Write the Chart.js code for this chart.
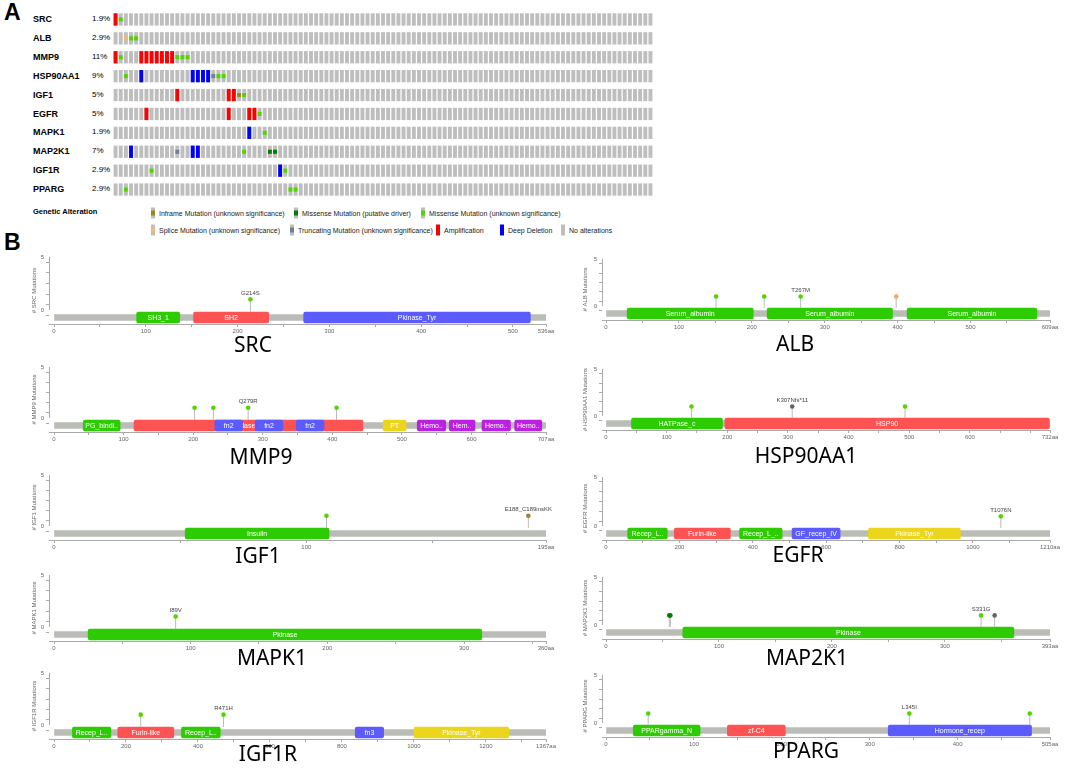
<!DOCTYPE html>
<html>
<head>
<meta charset="utf-8">
<script src="https://cdn.jsdelivr.net/npm/chart.js@4.4.1/dist/chart.umd.min.js"></script>
<style>
  html, body { margin: 0; padding: 0; background: #fff; }
  #page { position: relative; width: 1065px; height: 769px; overflow: hidden; font-family: "Liberation Sans", Arial, sans-serif; color: #000; }
  #page canvas { position: absolute; }
  .txt { position: absolute; white-space: nowrap; line-height: 1; }
  .tag { font-weight: bold; font-size: 23px; }
  .gene { font-weight: bold; font-size: 9px; transform: translateY(-50%); }
  .pct { font-size: 8px; transform: translateY(-50%); }
  .legend { font-size: 7px; color: #222; transform: translateY(-50%); display: flex; align-items: center; }
  .sw { display: inline-block; position: relative; width: 4px; height: 11px; background: #bebebe; margin-right: 4px; }
  .sw i { position: absolute; left: 0; right: 0; top: 3px; height: 5px; }
  .title { font-family: "Noto Sans", sans-serif; font-size: 21px; transform: translate(-50%, -50%); }
</style>
</head>
<body>
<div id="page"></div>
<script>
// ---------- Panel A: oncoprint ----------
const genes = ["SRC", "ALB", "MMP9", "HSP90AA1", "IGF1", "EGFR", "MAPK1", "MAP2K1", "IGF1R", "PPARG"];
const alteredPct = ["1.9%", "2.9%", "11%", "9%", "5%", "5%", "1.9%", "7%", "2.9%", "2.9%"];
const sampleCount = 105;
// sample columns (0-based) carrying each alteration, one list per gene
const ampSamples      = [[0], [], [0, 5, 6, 7, 8, 9, 10, 11], [], [12, 22, 23], [6, 22, 26, 27], [], [], [], []];
const deletionSamples = [[], [], [], [5, 15, 16, 17, 18], [], [], [26], [3, 15, 16], [32], []];
const missenseSamples = [[1], [3, 4], [1, 12, 13, 14], [2, 20, 21], [25], [28], [29], [25], [7, 33], [2, 34, 35]];
const driverSamples   = [[], [], [], [], [], [], [], [30, 31], [], []];
const truncSamples    = [[], [], [], [19], [], [], [], [12], [], []];
const spliceSamples   = [[], [2], [], [], [], [], [], [], [], []];
const inframeSamples  = [[], [], [], [], [24], [], [], [], [], []];

// ---------- Panel B: lollipop plots ----------
const proteinLength = [536, 609, 707, 732, 195, 1210, 360, 393, 1367, 505];
const xMajorStep = [100, 100, 100, 100, 100, 200, 100, 100, 200, 100];
const xMinorStep = [50, 50, 50, 50, 50, 100, 50, 50, 100, 50];

// [name, start, end]
const srcDomains = [["SH3_1", 90, 137], ["SH2", 152, 234], ["Pkinase_Tyr", 272, 519]];
const albDomains = [["Serum_albumin", 29, 202], ["Serum_albumin", 221, 393], ["Serum_albumin", 413, 591]];
const mmp9Domains = [["PG_binding_1", 42, 95], ["Peptidase_M10", 115, 444], ["fn2", 231, 271], ["fn2", 289, 329],
  ["fn2", 348, 388], ["PT", 473, 506], ["Hemopexin", 522, 563], ["Hemopexin", 568, 605], ["Hemopexin", 615, 656], ["Hemopexin", 662, 701]];
const hspDomains = [["HATPase_c", 42, 192], ["HSP90", 196, 731]];
const igf1Domains = [["Insulin", 52, 109]];
const egfrDomains = [["Recep_L_domain", 59, 167], ["Furin-like", 186, 339], ["Recep_L_domain", 364, 480], ["GF_recep_IV", 507, 638], ["Pkinase_Tyr", 715, 966]];
const mapk1Domains = [["Pkinase", 25, 313]];
const map2k1Domains = [["Pkinase", 68, 361]];
const igf1rDomains = [["Recep_L_domain", 51, 158], ["Furin-like", 177, 333], ["Recep_L_domain", 354, 462], ["fn3", 837, 916], ["Pkinase_Tyr", 1000, 1264]];
const ppargDomains = [["PPARgamma_N", 31, 107], ["zf-C4", 138, 204], ["Hormone_recep", 321, 484]];

// [position, count, type, label]
const srcMutations = [[214, 1, "missense", "G214S"]];
const albMutations = [[151, 1, "missense", ""], [217, 1, "missense", ""], [267, 1, "missense", "T267M"], [398, 1, "splice", ""]];
const mmp9Mutations = [[202, 1, "missense", ""], [229, 1, "missense", ""], [279, 1, "missense", "Q279R"], [406, 1, "missense", ""]];
const hspMutations = [[141, 1, "missense", ""], [307, 1, "truncating", "K307Nfs*11"], [493, 1, "missense", ""]];
const igf1Mutations = [[108, 1, "missense", ""], [188, 1, "inframe", "E188_C189insKK"]];
const egfrMutations = [[1076, 1, "missense", "T1076N"]];
const mapk1Mutations = [[89, 1, "missense", "I89V"]];
const map2k1Mutations = [[56, 1, "driver", ""], [57, 1, "driver", ""], [332, 1, "missense", "S331G"], [344, 1, "truncating", ""]];
const igf1rMutations = [[241, 1, "missense", ""], [471, 1, "missense", "R471H"]];
const ppargMutations = [[48, 1, "missense", ""], [345, 1, "missense", "L345I"], [482, 1, "missense", ""]];

const geneDomains = [srcDomains, albDomains, mmp9Domains, hspDomains, igf1Domains, egfrDomains, mapk1Domains, map2k1Domains, igf1rDomains, ppargDomains];
const geneMutations = [srcMutations, albMutations, mmp9Mutations, hspMutations, igf1Mutations, egfrMutations, mapk1Mutations, map2k1Mutations, igf1rMutations, ppargMutations];

// ---------- styles and layout ----------
const alterationColors = { amp: "#ff0000", deletion: "#0000ff", missense: "#53d400", driver: "#008000",
  truncating: "#708090", splice: "#f0b87b", inframe: "#a68028", none: "#bebebe" };
const headColors = { missense: "#53d400", driver: "#008000", truncating: "#5c6670", splice: "#f0a860", inframe: "#a68028" };
const domainPalette = ["#2dcc00", "#ff5353", "#5b5bff", "#ebd61d", "#ba21e0"];
const backboneColor = "#babdb6";

const page = document.getElementById("page");

function addText(text, cls, x, y, extra) {
  const d = document.createElement("div");
  d.className = "txt " + cls;
  d.textContent = text;
  d.style.left = x + "px";
  d.style.top = y + "px";
  if (extra) Object.assign(d.style, extra);
  page.appendChild(d);
  return d;
}

addText("A", "tag", 4, 1);
addText("B", "tag", 4, 231);

// gene and percentage labels
const rowTop = 19, rowPitch = 18.9;
genes.forEach((g, r) => {
  addText(g, "gene", 33, rowTop + r * rowPitch);
  addText(alteredPct[r], "pct", 92, rowTop + r * rowPitch);
});

// oncoprint chart
const oncoCanvas = document.createElement("canvas");
oncoCanvas.width = 540;
oncoCanvas.height = Math.round(rowPitch * genes.length);
oncoCanvas.style.left = "113px";
oncoCanvas.style.top = (rowTop - rowPitch / 2) + "px";
page.appendChild(oncoCanvas);

const sampleLabels = Array.from({ length: sampleCount }, (_, i) => "S" + (i + 1));
const oncoDatasets = [];
genes.forEach((g, r) => {
  const cell = [r + 0.175, r + 0.825];
  const inner = [r + 0.39, r + 0.61];
  const cnaColor = i => ampSamples[r].includes(i) ? alterationColors.amp : alterationColors.deletion;
  const mutType = i => driverSamples[r].includes(i) ? "driver" : truncSamples[r].includes(i) ? "truncating"
    : spliceSamples[r].includes(i) ? "splice" : inframeSamples[r].includes(i) ? "inframe" : "missense";
  const hasMut = i => [missenseSamples, driverSamples, truncSamples, spliceSamples, inframeSamples].some(a => a[r].includes(i));
  const hasCna = i => ampSamples[r].includes(i) || deletionSamples[r].includes(i);
  const common = { grouped: false, barPercentage: 0.76, categoryPercentage: 1 };
  oncoDatasets.push({ ...common, label: g, data: sampleLabels.map(() => cell), backgroundColor: alterationColors.none, order: 3 });
  oncoDatasets.push({ ...common, label: g + " CNA", data: sampleLabels.map((_, i) => hasCna(i) ? cell : null),
    backgroundColor: sampleLabels.map((_, i) => cnaColor(i)), order: 2 });
  oncoDatasets.push({ ...common, label: g + " mutation", data: sampleLabels.map((_, i) => hasMut(i) ? inner : null),
    backgroundColor: sampleLabels.map((_, i) => alterationColors[mutType(i)]), order: 1 });
});

new Chart(oncoCanvas, {
  type: "bar",
  data: { labels: sampleLabels, datasets: oncoDatasets },
  options: {
    responsive: false, animation: false, events: [],
    layout: { padding: 0 },
    plugins: { legend: { display: false }, tooltip: { enabled: false } },
    scales: {
      x: { display: false, offset: true },
      y: { display: false, min: 0, max: genes.length, reverse: true }
    }
  }
});

// legend of panel A
addText("Genetic Alteration", "gene", 33, 212, { fontSize: "7.5px" });
const legendEntries = [
  ["Inframe Mutation (unknown significance)", "inframe", 151, 212.5],
  ["Missense Mutation (putative driver)", "driver", 294, 212.5],
  ["Missense Mutation (unknown significance)", "missense", 421, 212.5],
  ["Splice Mutation (unknown significance)", "splice", 151, 230],
  ["Truncating Mutation (unknown significance)", "truncating", 290, 230],
  ["Amplification", "amp", 436, 230],
  ["Deep Deletion", "deletion", 500, 230],
  ["No alterations", "none", 561, 230]
];
legendEntries.forEach(([label, kind, x, y]) => {
  const item = addText("", "legend", x, y);
  const sw = document.createElement("span");
  sw.className = "sw";
  if (kind === "amp" || kind === "deletion") sw.style.background = alterationColors[kind];
  else if (kind !== "none") {
    const inner = document.createElement("i");
    inner.style.background = alterationColors[kind];
    sw.appendChild(inner);
  }
  item.appendChild(sw);
  item.appendChild(document.createTextNode(label));
});

// ---------- lollipop helpers ----------
function fitLabel(ctx, text, maxW) {
  if (ctx.measureText(text).width <= maxW) return text;
  let t = text;
  while (t.length > 1 && ctx.measureText(t + "..").width > maxW) t = t.slice(0, -1);
  return t + "..";
}

const lollipopLabels = {
  id: "lollipopLabels",
  afterDatasetDraw(chart, args) {
    const ds = chart.data.datasets[args.index];
    const ctx = chart.ctx;
    if (ds.domainLabel) {
      const { x, base, y } = args.meta.data[0].getProps(["x", "base", "y"], true);
      ctx.save();
      ctx.font = '7px "Liberation Sans", Arial, sans-serif';
      ctx.fillStyle = "#fff";
      ctx.textAlign = "center";
      ctx.textBaseline = "middle";
      ctx.fillText(fitLabel(ctx, ds.domainLabel, Math.abs(x - base) - 4), (x + base) / 2, y + 0.5);
      ctx.restore();
    }
    if (ds.headLabels) {
      ctx.save();
      ctx.font = '6px "Liberation Sans", Arial, sans-serif';
      ctx.fillStyle = "#444";
      ctx.textAlign = "center";
      ctx.textBaseline = "middle";
      args.meta.data.forEach((el, i) => {
        if (ds.headLabels[i]) ctx.fillText(ds.headLabels[i], el.x, el.y - 6);
      });
      ctx.restore();
    }
  }
};

const yAxisLine = {
  id: "yAxisLine",
  afterDraw(chart) {
    const { ctx, chartArea } = chart;
    const y = chart.scales.y;
    ctx.save();
    ctx.strokeStyle = "#aaa";
    ctx.lineWidth = 1;
    ctx.beginPath();
    ctx.moveTo(chartArea.left + 0.5, y.getPixelForValue(5));
    ctx.lineTo(chartArea.left + 0.5, y.getPixelForValue(0));
    ctx.stroke();
    ctx.restore();
  }
};

function xTicks(g) {
  const len = proteinLength[g];
  const out = [];
  for (let v = 0; v < len - len * 0.02; v += xMinorStep[g]) out.push(v);
  out.push(len);
  return out;
}

// layout of the ten plots (left / right column)
const plotCols = [
  { canvasLeft: 28, axisX: 49, zeroX: 54, endX: 546 },
  { canvasLeft: 579, axisX: 602, zeroX: 606, endX: 1050 }
];
const plotTop5 = [256.7, 259, 366.7, 369.3, 475, 477, 575, 577.3, 672.7, 675];
const plotZero = [309.3, 305.7, 417.3, 416, 526, 526, 626.7, 625.3, 725, 723.3];
const titlePos = [[253, 344], [795, 343], [261, 456], [806, 455], [258, 555], [798, 554], [272, 657], [807, 657], [268, 753], [806, 750]];
const padTop = 8, padRight = 14, xAxisH = 20, axisGap = 14, backboneGap = 7.5;

function addLollipop(g) {
  const col = plotCols[g % 2];
  const len = proteinLength[g];
  const unit = (plotZero[g] - plotTop5[g]) / 5;
  const areaH = plotZero[g] + axisGap - plotTop5[g];
  const canvas = document.createElement("canvas");
  canvas.width = col.endX + padRight - col.canvasLeft;
  canvas.height = Math.round(padTop + areaH + xAxisH);
  canvas.style.left = col.canvasLeft + "px";
  canvas.style.top = (plotTop5[g] - padTop) + "px";
  page.appendChild(canvas);

  const backboneY = -backboneGap / unit;
  const stemBase = -(backboneGap - 5.5) / unit;
  const domains = geneDomains[g];
  const muts = geneMutations[g];
  const names = [...new Set(domains.map(d => d[0]))];

  const datasets = [{
    type: "bar", indexAxis: "y", data: [{ x: [0, len], y: backboneY }],
    backgroundColor: backboneColor, barThickness: 6, grouped: false, order: 1000
  }];
  domains.forEach((d, i) => datasets.push({
    type: "bar", indexAxis: "y", data: [{ x: [d[1], d[2]], y: backboneY }],
    backgroundColor: domainPalette[names.indexOf(d[0]) % domainPalette.length],
    barThickness: 11, borderRadius: 2, borderSkipped: false, grouped: false,
    order: 500 - i, domainLabel: d[0]
  }));
  const stems = [];
  muts.forEach(m => stems.push({ x: m[0], y: stemBase }, { x: m[0], y: m[1] }, { x: m[0], y: null }));
  datasets.push({ type: "line", data: stems, borderColor: backboneColor, borderWidth: 1, pointRadius: 0, spanGaps: false, order: 20 });
  datasets.push({
    type: "scatter", data: muts.map(m => ({ x: m[0], y: m[1] })),
    pointRadius: 2.3, pointBorderWidth: 0, pointBackgroundColor: muts.map(m => headColors[m[2]]),
    order: 10, headLabels: muts.map(m => m[3])
  });

  new Chart(canvas, {
    type: "scatter",
    data: { datasets },
    options: {
      responsive: false, animation: false, events: [],
      layout: { padding: { top: padTop, right: padRight, left: 0, bottom: 0 } },
      plugins: { legend: { display: false }, tooltip: { enabled: false } },
      scales: {
        x: {
          type: "linear", offset: false,
          min: -len * (col.zeroX - col.axisX) / (col.endX - col.zeroX), max: len,
          afterBuildTicks: s => { s.ticks = xTicks(g).map(v => ({ value: v })); },
          afterFit: s => { s.height = xAxisH; },
          ticks: {
            autoSkip: false, maxRotation: 0, padding: 1, color: "#666", font: { size: 6 },
            callback: v => v === len ? len + "aa" : (v % xMajorStep[g] === 0 && v < len - len * 0.06 ? String(v) : "")
          },
          grid: { drawOnChartArea: false, drawTicks: true, tickLength: 3, color: "#aaa" },
          border: { display: true, color: "#aaa" }
        },
        y: {
          type: "linear", offset: false, min: -axisGap / unit, max: 5,
          afterBuildTicks: s => { s.ticks = [0, 1, 2, 3, 4, 5].map(v => ({ value: v })); },
          afterFit: s => { s.width = col.axisX - col.canvasLeft; },
          ticks: { padding: 2, color: "#666", font: { size: 6 }, callback: v => (v === 0 || v === 5) ? String(v) : "" },
          grid: { drawOnChartArea: false, drawTicks: true, tickLength: 3, color: "#aaa" },
          border: { display: false },
          title: { display: true, text: "# " + genes[g] + " Mutations", color: "#666", font: { size: 6 }, padding: { top: 3, bottom: 0 } }
        }
      }
    },
    plugins: [lollipopLabels, yAxisLine]
  });

  addText(genes[g], "title", titlePos[g][0], titlePos[g][1]);
}

genes.forEach((g, i) => addLollipop(i));
</script>
</body>
</html>
